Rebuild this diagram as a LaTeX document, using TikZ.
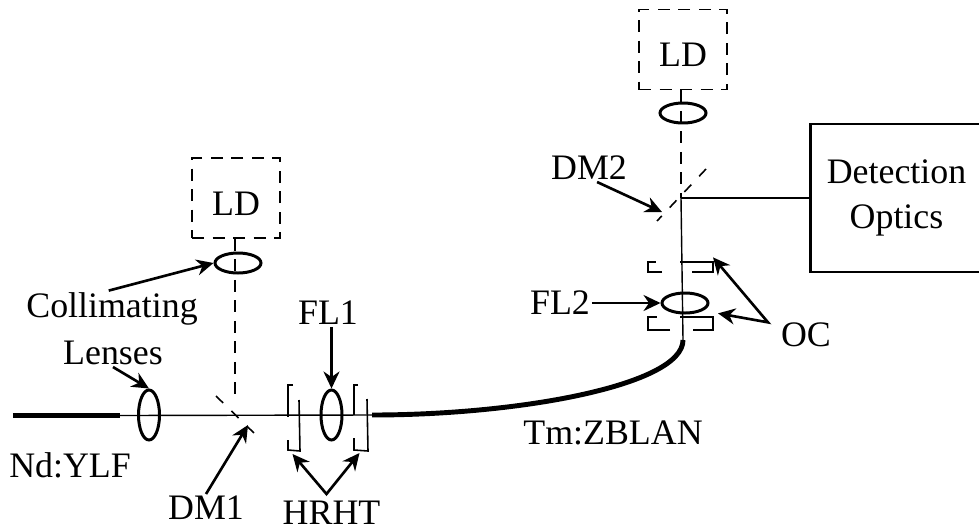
\documentclass[tikz,border=0pt]{standalone}
\usepackage{fontspec}
\setmainfont{Liberation Serif}
\usepackage{xcolor}
\usetikzlibrary{shapes.geometric, arrows.meta, positioning, calc}
\tikzset{
  % Lenses
  lens_v/.style={
    ellipse, draw, line width=1.7pt, inner sep=0pt,
    minimum width=0.42cm, minimum height=1.0cm
  },
  lens_h/.style={
    ellipse, draw, line width=1.7pt, inner sep=0pt,
    minimum width=0.92cm, minimum height=0.4cm
  },
  % Laser diode box
  diode/.style={
    rectangle, draw, line width=1.1pt, inner sep=0pt,
    dash pattern=on 0.24cm off 0.17cm, text height=0.7cm,
    minimum width=1.76cm, minimum height=1.6cm
  },
  % Detection box
  detect_box/.style={
    rectangle, draw, line width=1.2pt, align=center,
    minimum width=3.44cm, minimum height=2.96cm
  },
  label_text/.style={inner sep=1pt},
  % Lines
  beam/.style={line width=0.8pt},
  pump/.style={line width=0.9pt, dash pattern=on 0.24cm off 0.17cm},
  fibre/.style={line width=2.8pt},
  mirror_dash/.style={line width=0.9pt, dash pattern=on 0.2cm off 0.23cm},
  coat/.style={line width=0.9pt},
  arrow/.style={
    -{Stealth[length=0.34cm,width=0.32cm]}, line width=1.5pt
  },
  both_arrow/.style={
    {Stealth[length=0.34cm,width=0.32cm]}-{Stealth[length=0.34cm,width=0.32cm]},
    line width=1.5pt
  }
}
\begin{document}
\begin{tikzpicture}[
  on grid,
  every node/.style={font=\fontsize{20.4pt}{25.5pt}\selectfont}
]
\useasboundingbox (0,0) rectangle (19.58,-10.62);

% Input arm
\node[lens_v] (lens_c) at (2.98,-8.30) {};
\node[lens_v, right=3.65cm of lens_c] (lens_f1) {};
\coordinate[right=1.72cm of lens_c] (dm1);
\coordinate[above=0.32cm of dm1] (dm1_top);
\coordinate[below right=0.2cm and 0.26cm of dm1] (dm1_tip);
\coordinate (fibre_left) at (0.26,-8.31);
\coordinate[right=2.14cm of fibre_left] (fibre_right);
\coordinate[right=0.81cm of lens_f1] (fibre_start);
\node[lens_h] (lens_l1) at (4.76,-5.26) {};
\node[diode, above left=1.3cm and 0.04cm of lens_l1] (ld_left) {LD};

% Output arm
\node[lens_h] (lens_f2) at (13.7,-6.06) {};
\node[lens_h, above left=3.8cm and 0.04cm of lens_f2] (lens_l2) {};
\node[diode, above=1.27cm of lens_l2] (ld_right) {LD};
\coordinate[below left=0.74cm and 0.04cm of lens_f2] (fibre_end);
\coordinate (dm2) at (13.62,-3.96);
\coordinate[below left=0.28cm and 0.38cm of dm2] (dm2_tip);
\node[detect_box, right=4.31cm of dm2, anchor=center] (detect) {Detection\\Optics};

% Labels
\node[label_text, above left=2.12cm and 0.74cm of lens_c] (lbl_collim) {Collimating};
\node[label_text, above left=1.24cm and 0.72cm of lens_c] (lbl_lenses) {Lenses};
\node[label_text, below left=1.0cm and 1.58cm of lens_c] (lbl_nd) {Nd:YLF};
\node[label_text, below left=1.86cm and 0.58cm of dm1, anchor=center] (lbl_dm1) {DM1};
\node[label_text, below=1.96cm of lens_f1] (lbl_hrht) {HRHT};
\node[label_text, above left=2.04cm and 0.07cm of lens_f1] (lbl_fl1) {FL1};
\node[label_text, left=2.5cm of lens_f2] (lbl_fl2) {FL2};
\node[label_text, above left=0.6cm and 1.84cm of dm2, anchor=center] (lbl_dm2) {DM2};
\node[label_text, below right=0.64cm and 2.42cm of lens_f2] (lbl_oc) {OC};
\node[label_text, below left=2.6cm and 1.44cm of lens_f2] (lbl_tm) {Tm:ZBLAN};

% Arrow meeting points
\coordinate[above left=0.38cm and 0.1cm of lbl_hrht] (hr_apex);
\coordinate[above left=0.8cm and 0.68cm of hr_apex] (hr_left);
\coordinate[above right=0.82cm and 0.66cm of hr_apex] (hr_right);
\coordinate[below left=0.03cm and 0.76cm of lbl_oc.north] (oc_apex);
\coordinate[above left=1.3cm and 1.1cm of oc_apex] (oc_upper);
\coordinate[above left=0.18cm and 1.0cm of oc_apex] (oc_lower);

% Fibres and beams
\draw[fibre] (fibre_left) -- (fibre_right);
\draw[beam] (fibre_right) -- (fibre_start);
\draw[fibre] (fibre_start) .. controls +(2.96,0) and +(0,-0.9) .. (fibre_end);
\draw[beam] (dm2) -- (fibre_end);
\draw[beam] (dm2) -- (dm2 -| detect.west);
\draw[pump] (ld_left.south -| dm1) -- (dm1_top);
\draw[pump] (ld_right.south -| dm2) -- (dm2);

% Dichroic mirrors
\draw[mirror_dash, shift={(dm1)}] (-0.38,0.38) -- (0.4,-0.38);
\draw[mirror_dash, shift={(dm2)}] (0.5,0.58) -- (-0.48,-0.46);

% HR/HT coated fibre ends
\draw[coat, shift={(lens_f1)}] (-0.77,0.6) -- (-0.87,0.6) -- (-0.87,-0.04);
\draw[coat, shift={(lens_f1)}] (-0.87,-0.5) -- (-0.87,-0.7) -- (-0.63,-0.72) -- (-0.65,0.3);
\draw[coat, shift={(lens_f1)}] (0.53,0.6) -- (0.45,0.6) -- (0.45,0);
\draw[coat, shift={(lens_f1)}] (0.45,-0.46) -- (0.45,-0.7) -- (0.73,-0.72) -- (0.71,0.32);

% Output couplers
\draw[coat, shift={(lens_f2)}] (-0.1,0.82) -- (0.56,0.82) -- (0.56,0.62) -- (0.14,0.62);
\draw[coat, shift={(lens_f2)}] (-0.46,0.62) -- (-0.74,0.62) -- (-0.74,0.82) -- (-0.58,0.82);
\draw[coat, shift={(lens_f2)}] (-0.1,-0.28) -- (0.56,-0.28) -- (0.56,-0.54) -- (0.16,-0.54);
\draw[coat, shift={(lens_f2)}] (-0.3,-0.54) -- (-0.74,-0.54) -- (-0.74,-0.28) -- (-0.56,-0.28);

% Arrows
\draw[arrow] (lbl_collim.100) -- (lens_l1.west);
\draw[arrow] (lbl_lenses.south) -- (lens_c.north);
\draw[arrow] (lbl_fl1.south -| lens_f1) -- (lens_f1.north);
\draw[arrow] (lbl_dm1.north) -- (dm1_tip);
\draw[arrow] (lbl_fl2) -- (lens_f2.west);
\draw[arrow] (lbl_dm2.-60) -- (dm2_tip);
\draw[both_arrow] (hr_left) -- (hr_apex) -- (hr_right);
\draw[both_arrow] (oc_upper) -- (oc_apex) -- (oc_lower);

\end{tikzpicture}
\end{document}
